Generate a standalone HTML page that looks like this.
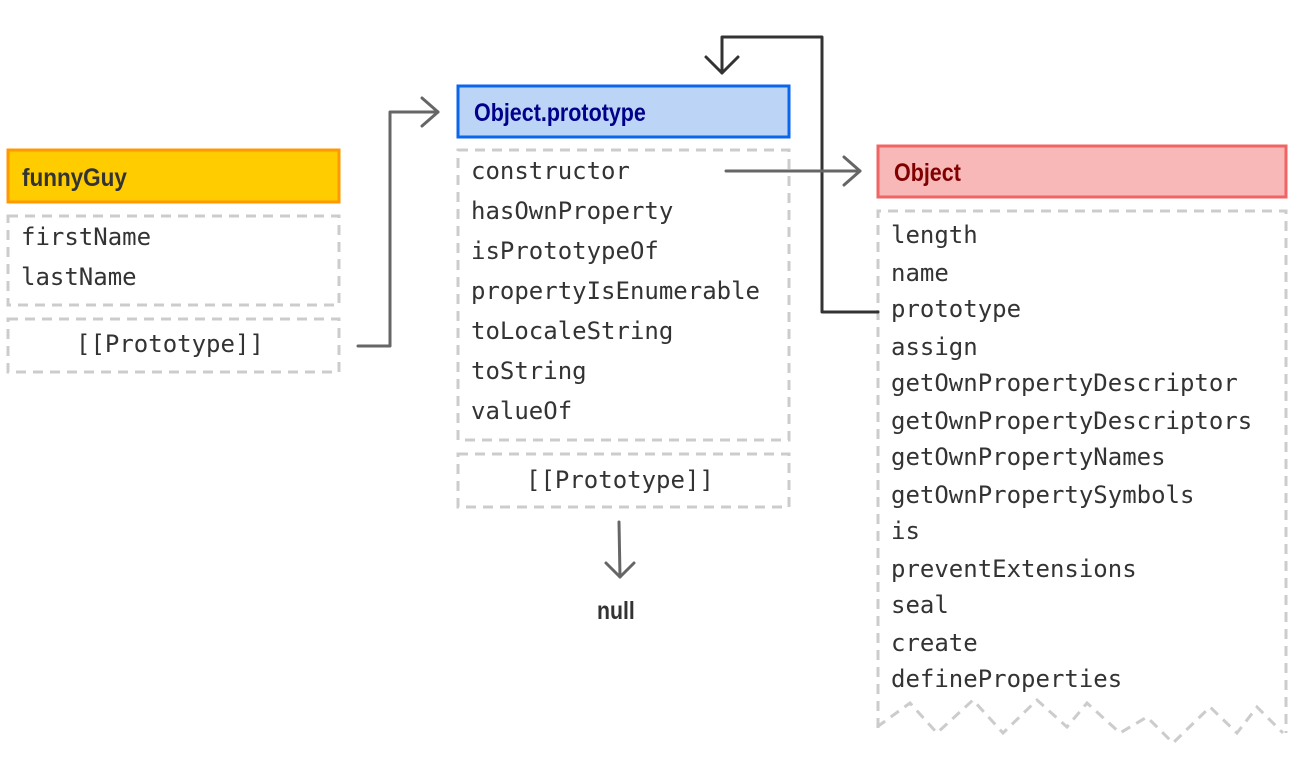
<!DOCTYPE html>
<html><head><meta charset="utf-8"><style>
html,body{margin:0;padding:0;background:#fff;width:1300px;height:780px;overflow:hidden}
svg text.m{font-family:"DejaVu Sans Mono","Liberation Mono",monospace;font-size:24px;fill:#333}
svg text.h{font-family:"Liberation Sans",sans-serif;font-weight:bold;font-size:25px}
</style></head><body>
<svg width="1300" height="780" viewBox="0 0 1300 780" xmlns="http://www.w3.org/2000/svg">
<g fill="none" stroke="#ccc" stroke-width="3" stroke-dasharray="10 7">
<rect x="8" y="216" width="331" height="89"/>
<rect x="8" y="319" width="331" height="53"/>
<rect x="458" y="150" width="331" height="290"/>
<rect x="458" y="454" width="331" height="53"/>
<path d="M878 728 V211 H1286 V733"/>
<path d="M877 727 L910 703 L937 733 L973 700 L1003 733 L1037 700 L1067 727 L1087 703 L1120 733 L1147 717 L1173 743 L1210 707 L1237 733 L1257 707 L1283 733"/>
</g>
<rect x="8" y="150" width="331" height="52" fill="#ffcc00" stroke="#ff9900" stroke-width="3"/>
<text class="h" x="22" y="186" fill="#333" transform="translate(22 0) scale(0.9 1) translate(-22 0)">funnyGuy</text>
<rect x="458" y="86" width="331" height="51" fill="#bcd5f7" stroke="#0b66ee" stroke-width="3"/>
<text class="h" x="474" y="121" fill="#00008b" transform="translate(474 0) scale(0.86 1) translate(-474 0)">Object.prototype</text>
<rect x="878" y="146" width="408" height="51" fill="#f8b8b8" stroke="#f06464" stroke-width="3"/>
<text class="h" x="894" y="181" fill="#800000" transform="translate(894 0) scale(0.86 1) translate(-894 0)">Object</text>
<text class="m" x="21" y="245">firstName</text>
<text class="m" x="21" y="285">lastName</text>
<text class="m" x="76" y="352">[[Prototype]]</text>
<g class="mm">
<text class="m" x="471" y="179">constructor</text>
<text class="m" x="471" y="219">hasOwnProperty</text>
<text class="m" x="471" y="259">isPrototypeOf</text>
<text class="m" x="471" y="299">propertyIsEnumerable</text>
<text class="m" x="471" y="339">toLocaleString</text>
<text class="m" x="471" y="379">toString</text>
<text class="m" x="471" y="419">valueOf</text>
<text class="m" x="526" y="488">[[Prototype]]</text>
</g>
<g>
<text class="m" x="891" y="243">length</text>
<text class="m" x="891" y="281">name</text>
<text class="m" x="891" y="317">prototype</text>
<text class="m" x="891" y="355">assign</text>
<text class="m" x="891" y="391">getOwnPropertyDescriptor</text>
<text class="m" x="891" y="429">getOwnPropertyDescriptors</text>
<text class="m" x="891" y="465">getOwnPropertyNames</text>
<text class="m" x="891" y="503">getOwnPropertySymbols</text>
<text class="m" x="891" y="539">is</text>
<text class="m" x="891" y="577">preventExtensions</text>
<text class="m" x="891" y="613">seal</text>
<text class="m" x="891" y="651">create</text>
<text class="m" x="891" y="687">defineProperties</text>
</g>
<text class="h" x="597" y="619" fill="#333" transform="translate(597 0) scale(0.85 1) translate(-597 0)">null</text>
<g fill="none" stroke="#333" stroke-width="3" stroke-linejoin="round" stroke-linecap="round">
<path d="M878 312 H822 V37 H722 V73"/>
<path d="M706 57 L722 73 L738 57"/>
</g>
<g fill="none" stroke="#666" stroke-width="3" stroke-linejoin="round" stroke-linecap="round">
<path d="M358 346 H390 V112 H438"/>
<path d="M422 98 L438 112 L422 126"/>
<path d="M726 171 H860"/>
<path d="M844 157 L860 171 L844 185"/>
<path d="M619 522 L620 577"/>
<path d="M606 563 L620 577 L634 563"/>
</g>
</svg>
</body></html>
